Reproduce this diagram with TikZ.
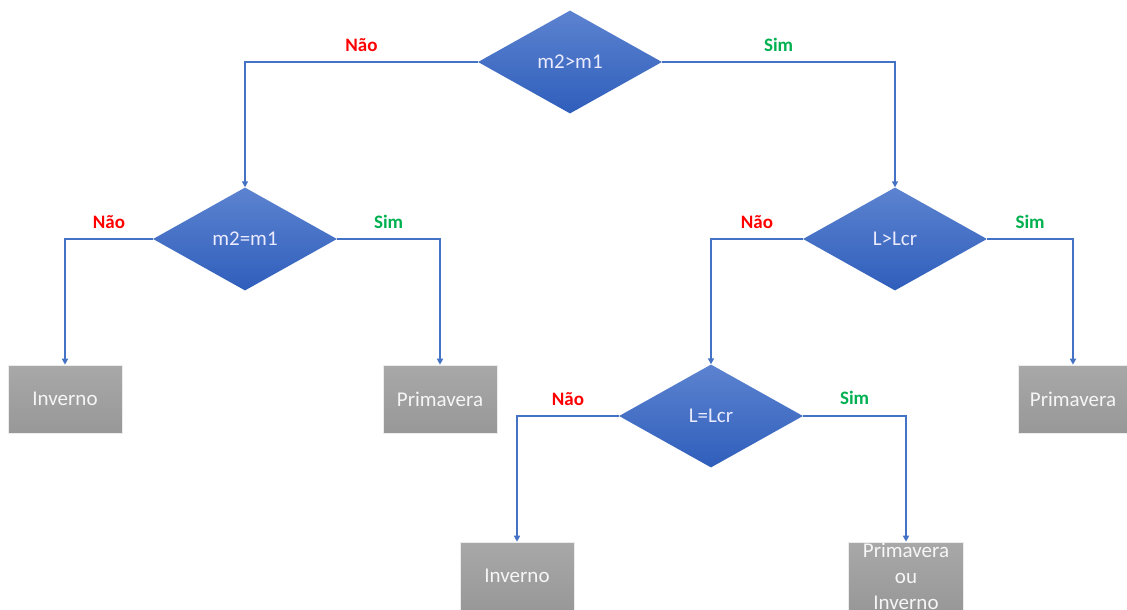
\documentclass[tikz,border=0pt]{standalone}
\usepackage{fontspec}
\setmainfont{Carlito}
\usepackage{tikz}
\usetikzlibrary{arrows.meta, positioning, shapes.geometric}
\usepackage{xcolor}
\definecolor{decblue}{RGB}{68, 114, 196}
\definecolor{decblueTop}{RGB}{92, 131, 208}
\definecolor{decblueBot}{RGB}{47, 94, 187}
\definecolor{leafgrayTop}{RGB}{168, 168, 168}
\definecolor{leafgrayBot}{RGB}{152, 152, 152}
\definecolor{naored}{RGB}{255, 0, 0}
\definecolor{simgreen}{RGB}{0, 176, 80}

\begin{document}
\begin{tikzpicture}[
    x=1pt, y=-1pt,
    decision/.style={diamond, minimum width=184pt, minimum height=103pt,
                     inner sep=0pt, top color=decblueTop, bottom color=decblueBot,
                     text=white!92!blue, font=\fontsize{21}{24}\selectfont},
    leaf/.style={rectangle, minimum width=114pt, minimum height=68pt,
                 inner sep=0pt, top color=leafgrayTop, bottom color=leafgrayBot,
                 draw=white!85!gray, line width=0.6pt, align=center,
                 text=white!93!gray, font=\fontsize{21}{26}\selectfont},
    link/.style={draw=decblue, line width=1.6pt,
                 -{Triangle[length=6pt, width=6pt]}},
    nao/.style={text=naored, font=\bfseries\fontsize{19}{22}\selectfont},
    sim/.style={text=simgreen, font=\bfseries\fontsize{19}{22}\selectfont},
  ]
    \useasboundingbox (0,0) rectangle (1127,610);
    \clip (0,0) rectangle (1127,610);

    % Decisions
    \node[decision] (mgt) at (570,62) {m2>m1};
    \node[decision] (meq) at (245,239) {m2=m1};
    \node[decision] (lgt) at (895,239) {L>Lcr};
    \node[decision] (leq) at (711,416) {L=Lcr};

    % Leaves
    \node[leaf] (inv1) at (65,399) {Inverno};
    \node[leaf] (pri1) at (440,399) {Primavera};
    \node[leaf, minimum width=110pt] (pri2) at (1073,399) {Primavera};
    \node[leaf] (inv2) at (517,576) {Inverno};
    \node[leaf, minimum width=115pt] (both) at (906,576) {Primavera\\ou\\Inverno};

    % Branches of m2>m1
    \draw[link] (mgt.west) -| (meq.north)
      node[nao, pos=0.25, yshift=17pt] {Não};
    \draw[link] (mgt.east) -| (lgt.north)
      node[sim, pos=0.25, yshift=17pt] {Sim};

    % Branches of m2=m1
    \draw[link] (meq.west) -| (inv1.north)
      node[nao, pos=0.25, yshift=17pt] {Não};
    \draw[link] (meq.east) -| (pri1.north)
      node[sim, pos=0.25, yshift=17pt] {Sim};

    % Branches of L>Lcr
    \draw[link] (lgt.west) -| (leq.north)
      node[nao, pos=0.25, yshift=17pt] {Não};
    \draw[link] (lgt.east) -| (pri2.north)
      node[sim, pos=0.25, yshift=17pt] {Sim};

    % Branches of L=Lcr
    \draw[link] (leq.west) -| (inv2.north)
      node[nao, pos=0.25, yshift=17pt] {Não};
    \draw[link] (leq.east) -| (both.north)
      node[sim, pos=0.25, yshift=18pt] {Sim};
  \end{tikzpicture}
\end{document}
